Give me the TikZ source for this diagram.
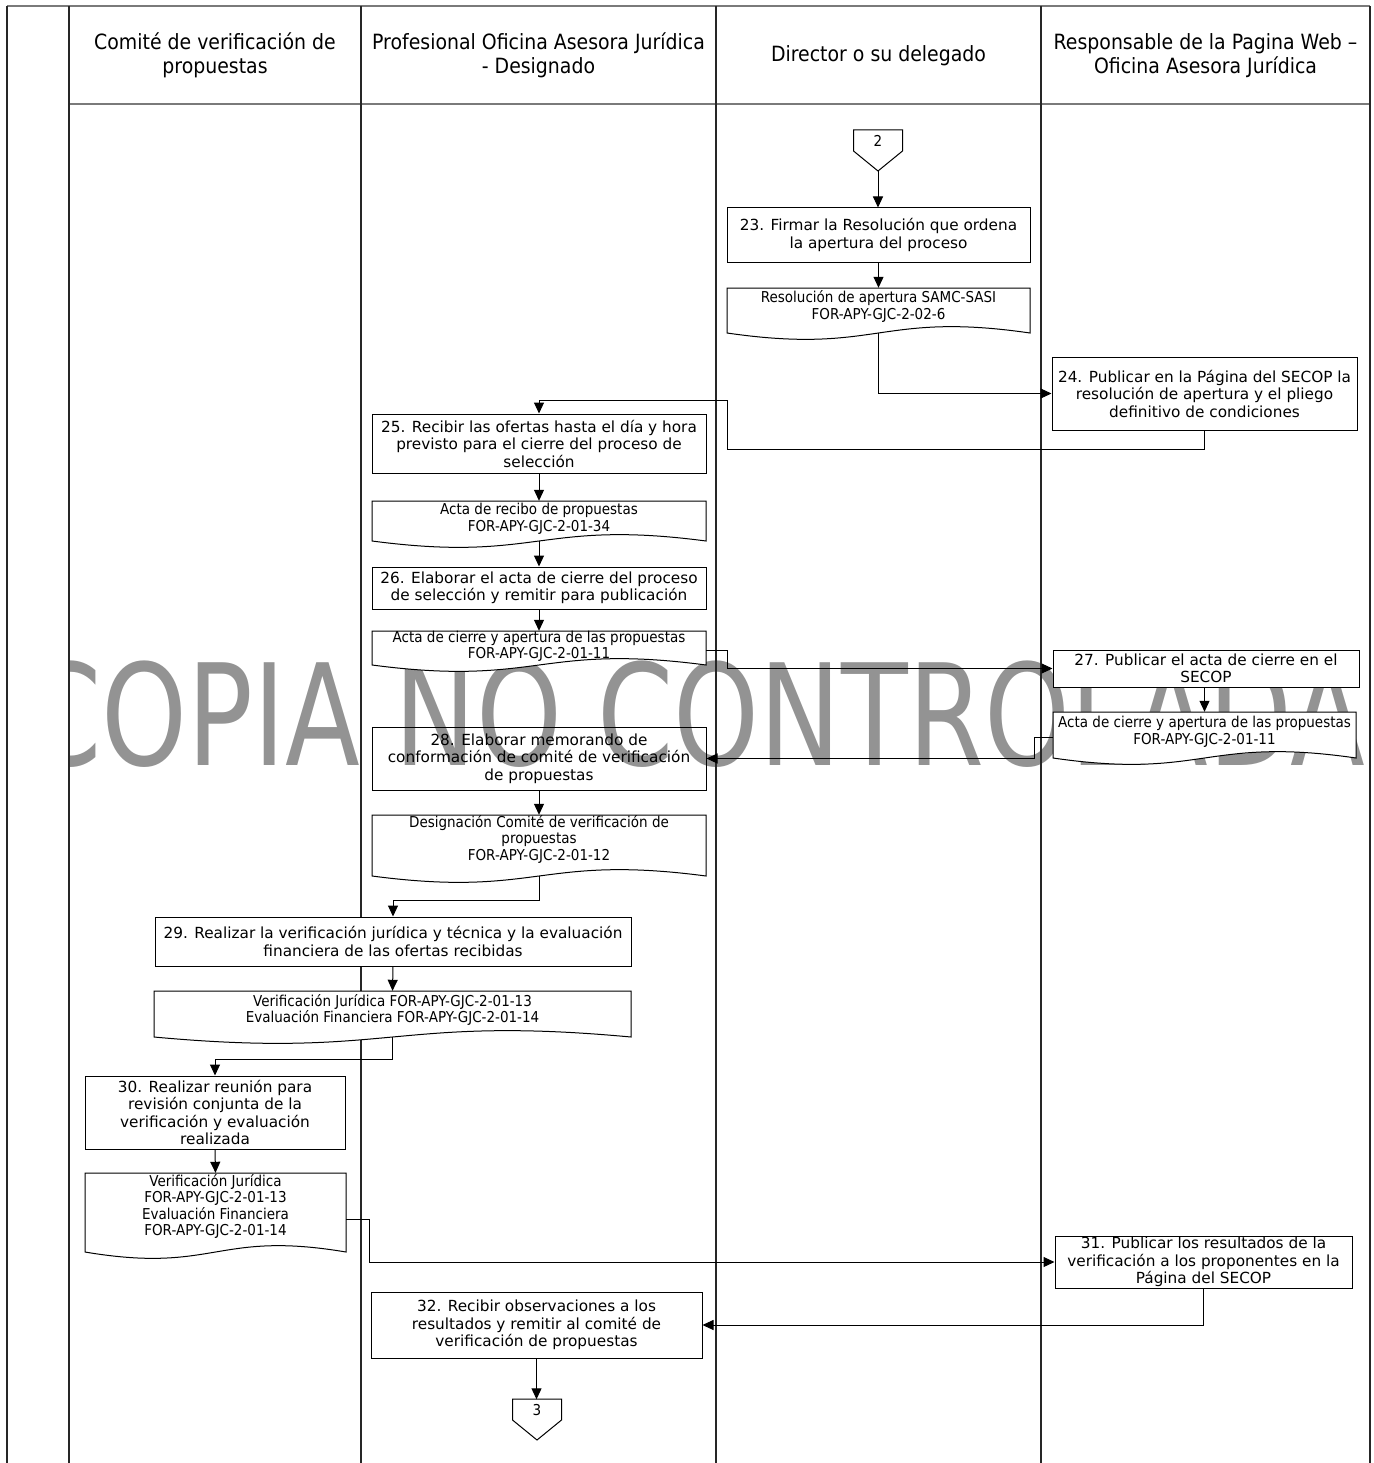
\documentclass[tikz,border=0pt]{standalone}
\usepackage{fontspec}
\usetikzlibrary{arrows.meta,calc}
\newfontfamily\boxf{DejaVu Sans}
\newfontfamily\condf[FakeStretch=0.9]{DejaVu Sans}
\newfontfamily\wmf[FakeStretch=0.775]{DejaVu Sans}
\definecolor{wmgray}{HTML}{939393}
\definecolor{framegray}{HTML}{7A7A7A}
\tikzset{
 boxsty/.style={draw=black, line width=1pt, fill=white, inner sep=0pt, align=center, font=\boxf\fontsize{15.3}{17.5}\selectfont},
 doctext/.style={inner sep=0pt, align=center, font=\condf\fontsize{15}{16.5}\selectfont},
 docline/.style={draw=black, line width=1pt, fill=white},
 lane/.style={line width=1.4pt, draw=black!85},
 hdr/.style={align=center, inner sep=0pt, font=\condf\fontsize{21}{23.5}\selectfont},
 conn/.style={line width=1pt, -{Triangle[length=11pt,width=10pt]}},
}
\newcommand\boxnode[7][]{\node[boxsty, #1, minimum width={#5-#3}, minimum height={#6-#4}] (#2) at ({(#3+#5)/2},{(#4+#6)/2}) {#7};}
\newcommand\docnode[7]{%
 \draw[docline] (#2,#3) -- (#4,#3) -- (#4,#6) .. controls +({-(#4-#2)/2},-22) and +({(#4-#2)/2},22) .. (#2,#6) -- cycle;
 \node[doctext, minimum width={#4-#2}, minimum height={#5-#3}] (#1) at ({(#2+#4)/2},{(#3+#5)/2}) {#7};
 \coordinate (#1-b) at ({(#2+#4)/2},#6);}
\newcommand\offpage[4]{%
 \draw[docline] ({#2-24.5},#3) -- ({#2+24.5},#3) -- ({#2+24.5},#3+21) -- (#2,#3+41) -- ({#2-24.5},#3+21) -- cycle;
 \node[inner sep=0pt, minimum width=49, minimum height=21, font=\condf\fontsize{15}{16}\selectfont] (#1) at (#2,#3+11) {#4};
 \coordinate (#1-tip) at (#2,#3+41);}
\begin{document}
\begin{tikzpicture}[x=1pt,y=-1pt]
\useasboundingbox (0,0) rectangle (1373,1463);
% watermark
\begin{scope}
\clip (69,0) rectangle (1370,1463);
\node[anchor=base west, inner sep=0pt, text=wmgray, font=\wmf\fontsize{141}{141}\selectfont] (wm) at (25,765) {COPIA NO CONTROLADA};
\end{scope}
% frame and lanes
\draw[framegray, line width=2.2pt] (7,6) -- (1370,6);
\draw[framegray, line width=1.6pt] (69,104) -- (1370,104);
\draw[lane] (7,6) -- (7,1463);
\draw[lane] (69,6) -- (69,1463);
\draw[lane] (361,6) -- (361,1463);
\draw[lane] (716,6) -- (716,1463);
\draw[lane] (1041,6) -- (1041,1463);
\draw[lane] (1370,6) -- (1370,1463);
% headers
\node[hdr] (h1) at (215,55.5) {Comité de verificación de\\propuestas};
\node[hdr] (h2) at (538.5,55.5) {Profesional Oficina Asesora Jurídica\\- Designado};
\node[hdr] (h3) at (878.5,55.5) {Director o su delegado};
\node[hdr] (h4) at (1205.5,55.5) {Responsable de la Pagina Web –\\Oficina Asesora Jurídica};
% shapes
\offpage{c2}{878}{130}{2}
\boxnode{b23}{727}{208}{1030}{262}{23. Firmar la Resolución que ordena\\la apertura del proceso}
\docnode{d23}{727}{288}{1030}{325}{333}{Resolución de apertura SAMC-SASI\\FOR-APY-GJC-2-02-6}
\boxnode{b24}{1052}{357}{1357}{430}{24. Publicar en la Página del SECOP la\\resolución de apertura y el pliego\\definitivo de condiciones}
\boxnode{b25}{372}{414}{706}{473}{25. Recibir las ofertas hasta el día y hora\\previsto para el cierre del proceso de\\selección}
\docnode{d25}{372}{501}{706}{537}{541}{Acta de recibo de propuestas\\FOR-APY-GJC-2-01-34}
\boxnode{b26}{372}{567}{706}{609}{26. Elaborar el acta de cierre del proceso\\de selección y remitir para publicación}
\docnode{d26}{372}{631}{706}{662}{665}{Acta de cierre y apertura de las propuestas\\FOR-APY-GJC-2-01-11}
\boxnode{b27}{1053}{650}{1359}{687}{27. Publicar el acta de cierre en el\\SECOP}
\docnode{d27}{1053}{712}{1356}{752}{758}{Acta de cierre y apertura de las propuestas\\FOR-APY-GJC-2-01-11}
\boxnode[fill=none]{b28}{372}{727}{706}{790}{28. Elaborar memorando de\\conformación de comité de verificación\\de propuestas}
\docnode{d28}{372}{815}{706}{863}{876}{Designación Comité de verificación de\\propuestas\\FOR-APY-GJC-2-01-12}
\boxnode{b29}{155}{917}{631}{966}{29. Realizar la verificación jurídica y técnica y la evaluación\\financiera de las ofertas recibidas}
\docnode{d29}{154}{991}{631}{1029}{1037}{Verificación Jurídica FOR-APY-GJC-2-01-13\\Evaluación Financiera FOR-APY-GJC-2-01-14}
\boxnode{b30}{85}{1076}{345}{1149}{30. Realizar reunión para\\revisión conjunta de la\\verificación y evaluación\\realizada}
\docnode{d30}{85}{1173}{346}{1240}{1252}{Verificación Jurídica\\FOR-APY-GJC-2-01-13\\Evaluación Financiera\\FOR-APY-GJC-2-01-14}
\boxnode{b31}{1055}{1236}{1352}{1288}{31. Publicar los resultados de la\\verificación a los proponentes en la\\Página del SECOP}
\boxnode{b32}{371}{1292}{702}{1358}{32. Recibir observaciones a los\\resultados y remitir al comité de\\verificación de propuestas}
\offpage{c3}{537}{1399}{3}
% connectors
\draw[conn] (c2-tip) -- (c2-tip |- b23.north);
\draw[conn] (b23.south) -- (d23.north);
\draw[conn] (d23-b) |- (b24.west);
\draw[conn] (b24.south) -- ++(0,19) -| ++(-477,-49) -| (b25.north);
\draw[conn] (b25.south) -- (d25.north);
\draw[conn] (d25-b) -- (b26.north);
\draw[conn] (b26.south) -- (d26.north);
\draw[conn] ($(d26.east)+(0,4)$) -- ++(21,0) |- (b27.west);
\draw[conn] (b27.south -| d27.north) -- (d27.north);
\draw[conn] ($(d27.west)+(0,5)$) -- ++(-18,0) |- (b28.east);
\draw[conn] (b28.south) -- (d28.north);
\draw[conn] (d28-b) -- ++(0,24) -| (b29.north);
\draw[conn] (b29.south) -- (d29.north);
\draw[conn] (d29-b) -- ++(0,22) -| (b30.north);
\draw[conn] (b30.south) -- (d30.north);
\draw[conn] ($(d30.east)+(0,13)$) -- ++(23,0) |- (b31.west);
\draw[conn] (b31.south) |- (b32.east);
\draw[conn] (b32.south) -- (b32.south |- c3.north);
\end{tikzpicture}
\end{document}
